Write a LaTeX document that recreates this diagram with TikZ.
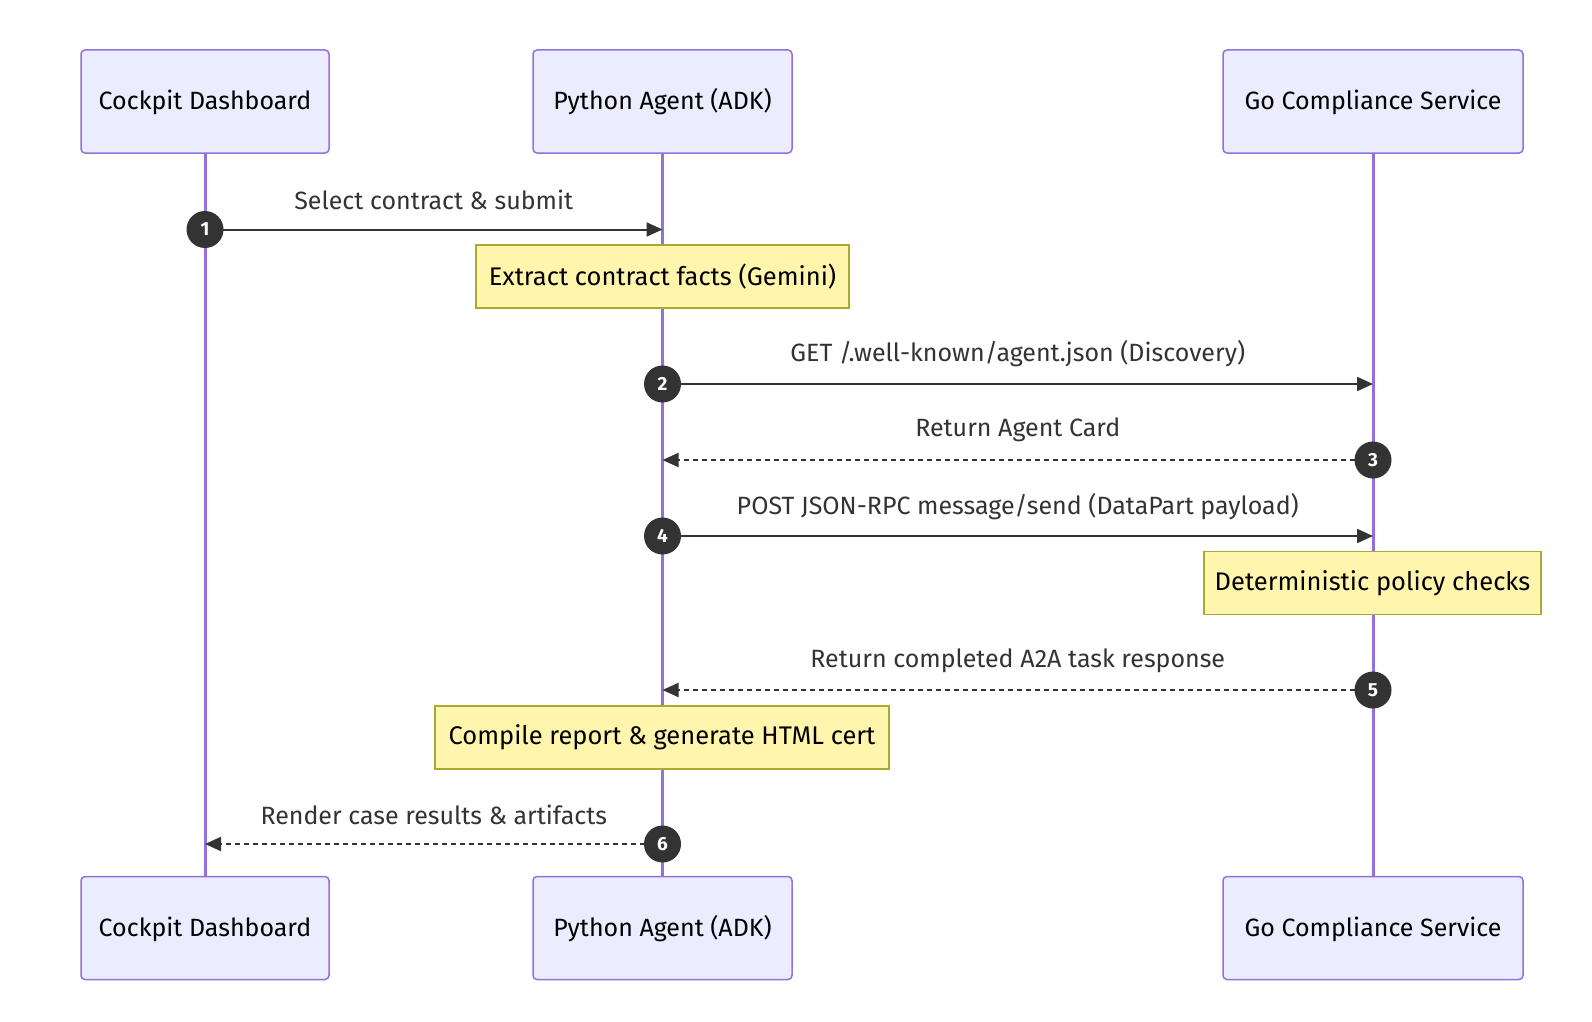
\documentclass[tikz,border=0pt]{standalone}
\usepackage{fontspec}
\setmainfont{Fira Sans}
\usetikzlibrary{arrows.meta,calc}
\definecolor{actfill}{HTML}{ECECFF}
\definecolor{actline}{HTML}{9370DB}
\definecolor{notefill}{HTML}{FFF5AD}
\definecolor{noteline}{HTML}{AAAA33}
\definecolor{msgcol}{HTML}{333333}
\tikzset{
  actor/.style={draw=actline, fill=actfill, line width=1.5pt, rounded corners=4pt,
    minimum height=103pt, inner sep=0pt, text=black, font=\fontsize{25}{28}\selectfont,
    text height=19pt, text depth=3pt},
  lifeline/.style={draw=actline, line width=3pt},
  notebox/.style={draw=noteline, fill=notefill, line width=1.5pt, minimum height=63pt,
    inner sep=0pt, text=black, font=\fontsize{25.5}{28}\selectfont},
  msgline/.style={draw=msgcol, line width=2pt, -{Triangle[length=16pt,width=14pt]}},
  retline/.style={msgline, dash pattern=on 5pt off 4pt},
  msglabel/.style={text=msgcol, font=\fontsize{25}{28}\selectfont, inner sep=0pt},
  seqnum/.style={circle, fill=msgcol, minimum size=37pt, inner sep=0pt,
    text=white, font=\fontsize{19}{21}\bfseries\selectfont}
}
\begin{document}
\begin{tikzpicture}[x=1pt,y=-1pt]
\useasboundingbox[fill=white] (0,0) rectangle (1592,1022);
% actors
\node[actor, minimum width=248pt] (cdT) at (205,101.5) {Cockpit Dashboard};
\node[actor, minimum width=259pt] (paT) at (662.5,101.5) {Python Agent (ADK)};
\node[actor, minimum width=300pt] (gcT) at (1373,101.5) {Go Compliance Service};
\node[actor, minimum width=248pt] (cdB) at (205,928) {Cockpit Dashboard};
\node[actor, minimum width=259pt] (paB) at (662.5,928) {Python Agent (ADK)};
\node[actor, minimum width=300pt] (gcB) at (1373,928) {Go Compliance Service};
% lifelines
\draw[lifeline] (cdT.south) -- (cdB.north);
\draw[lifeline] (paT.south) -- (paB.north);
\draw[lifeline] (gcT.south) -- (gcB.north);
% notes
\node[notebox, minimum width=373pt] (n1) at (662.5,276.5) {Extract contract facts (Gemini)};
\node[notebox, minimum width=337pt] (n2) at (1372.5,583) {Deterministic policy checks};
\node[notebox, minimum width=454pt] (n3) at (662,737.5) {Compile report \& generate HTML cert};
% message end points
\coordinate (m1s) at (cdT.south |- 0,229.5);
\coordinate (m1e) at (paT.south |- 0,229.5);
\coordinate (m2s) at (paT.south |- 0,384);
\coordinate (m2e) at (gcT.south |- 0,384);
\coordinate (m3s) at (gcT.south |- 0,460);
\coordinate (m3e) at (paT.south |- 0,460);
\coordinate (m4s) at (paT.south |- 0,536);
\coordinate (m4e) at (gcT.south |- 0,536);
\coordinate (m5s) at (gcT.south |- 0,690);
\coordinate (m5e) at (paT.south |- 0,690);
\coordinate (m6s) at (paT.south |- 0,844);
\coordinate (m6e) at (cdT.south |- 0,844);
% messages
\draw[msgline] (m1s) -- (m1e);
\draw[msgline] (m2s) -- (m2e);
\draw[retline] (m3s) -- (m3e);
\draw[msgline] (m4s) -- (m4e);
\draw[retline] (m5s) -- (m5e);
\draw[retline] (m6s) -- (m6e);
% labels
\node[msglabel] (l1) at ($(m1s)!0.5!(m1e)+(0,-30)$) {Select contract \& submit};
\node[msglabel] (l2) at ($(m2s)!0.5!(m2e)+(0,-30)$) {GET /.well-known/agent.json (Discovery)};
\node[msglabel] (l3) at ($(m3s)!0.5!(m3e)+(0,-30)$) {Return Agent Card};
\node[msglabel] (l4) at ($(m4s)!0.5!(m4e)+(0,-29)$) {POST JSON-RPC message/send (DataPart payload)};
\node[msglabel] (l5) at ($(m5s)!0.5!(m5e)+(0,-29)$) {Return completed A2A task response};
\node[msglabel] (l6) at ($(m6s)!0.5!(m6e)+(0,-29)$) {Render case results \& artifacts};
% sequence numbers
\node[seqnum] (c1) at (m1s) {1};
\node[seqnum] (c2) at (m2s) {2};
\node[seqnum] (c3) at (m3s) {3};
\node[seqnum] (c4) at (m4s) {4};
\node[seqnum] (c5) at (m5s) {5};
\node[seqnum] (c6) at (m6s) {6};
\end{tikzpicture}
\end{document}
